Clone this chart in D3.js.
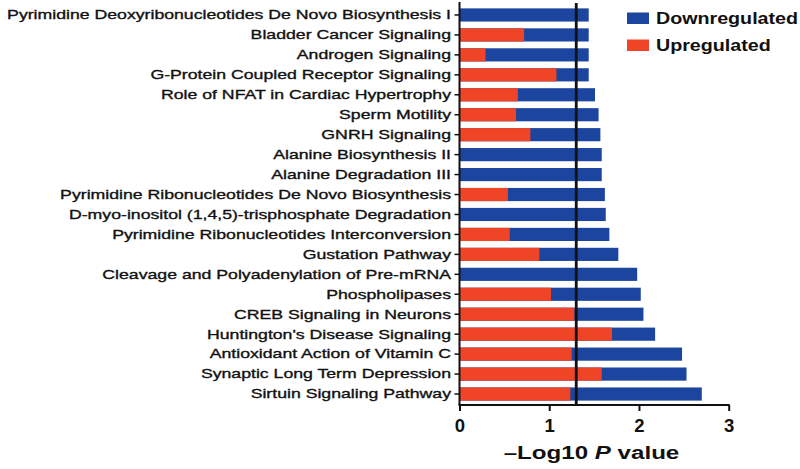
<!DOCTYPE html>
<html><head><meta charset="utf-8">
<script src="https://cdn.jsdelivr.net/npm/d3@7"></script>
<style>body{margin:0;background:#fff}svg{display:block}</style>
</head><body>
<svg id="c" width="800" height="469"></svg>
<script>
const categories = [
 "Pyrimidine Deoxyribonucleotides De Novo Biosynthesis I",
 "Bladder Cancer Signaling",
 "Androgen Signaling",
 "G-Protein Coupled Receptor Signaling",
 "Role of NFAT in Cardiac Hypertrophy",
 "Sperm Motility",
 "GNRH Signaling",
 "Alanine Biosynthesis II",
 "Alanine Degradation III",
 "Pyrimidine Ribonucleotides De Novo Biosynthesis",
 "D-myo-inositol (1,4,5)-trisphosphate Degradation",
 "Pyrimidine Ribonucleotides Interconversion",
 "Gustation Pathway",
 "Cleavage and Polyadenylation of Pre-mRNA",
 "Phospholipases",
 "CREB Signaling in Neurons",
 "Huntington's Disease Signaling",
 "Antioxidant Action of Vitamin C",
 "Synaptic Long Term Depression",
 "Sirtuin Signaling Pathway"
];
const totalValues = [1.44,1.44,1.44,1.44,1.51,1.55,1.57,1.585,1.585,1.62,1.63,1.67,1.77,1.98,2.02,2.05,2.18,2.48,2.53,2.70];
const upValues    = [0,0.72,0.29,1.08,0.65,0.63,0.79,0,0,0.54,0,0.56,0.89,0,1.02,1.28,1.70,1.25,1.585,1.235];
const xTicks = [0,1,2,3];
const threshold = 1.301;
const seriesNames = ["Downregulated","Upregulated"];
const colors = {Downregulated:"#1b459e", Upregulated:"#f04427"};

const FONT = "Liberation Sans, Arial, sans-serif";
const svg = d3.select("#c");
const x = d3.scaleLinear().domain([0,3]).range([459.5,728.7]);
const y = d3.scaleBand().domain(categories).range([5,404]).paddingInner(0.34).paddingOuter(0.17);

const rows = categories.map((c,i)=>({c, up:upValues[i], total:totalValues[i]}));

// blue (total) bars
svg.append("g").selectAll("rect").data(rows).join("rect")
  .attr("x", x(0)).attr("y", d=>y(d.c)).attr("height", y.bandwidth())
  .attr("width", d=>x(d.total)-x(0)).attr("fill", colors.Downregulated);
// red (up) bars
svg.append("g").selectAll("rect").data(rows.filter(d=>d.up>0)).join("rect")
  .attr("x", x(0)).attr("y", d=>y(d.c)).attr("height", y.bandwidth())
  .attr("width", d=>x(d.up)-x(0)).attr("fill", colors.Upregulated);

// threshold line
svg.append("line").attr("x1",x(threshold)).attr("x2",x(threshold))
  .attr("y1",3).attr("y2",405).attr("stroke","#111").attr("stroke-width",2.8);

// y axis
const sx = 1.31;
const yAxis = d3.axisLeft(y).tickSize(5).tickSizeOuter(0);
const gy = svg.append("g").attr("transform",`translate(${x(0)},0)`).call(yAxis);
gy.select(".domain").attr("stroke","#111").attr("stroke-width",2).attr("d","M0,2V405");
gy.selectAll(".tick line").attr("stroke","#111").attr("stroke-width",1.5);
gy.selectAll(".tick text").attr("font-family",FONT)
  .attr("font-size","13.5px").attr("fill","#111")
  .attr("stroke","#111").attr("stroke-width",0.35)
  .attr("x", -8.5/sx).attr("transform",`scale(${sx},1)`);

// x axis
const xAxis = d3.axisBottom(x).tickValues(xTicks).tickFormat(d3.format("d")).tickSize(6).tickSizeOuter(0);
const gx = svg.append("g").attr("transform","translate(0,405)").call(xAxis);
gx.select(".domain").attr("stroke","#111").attr("stroke-width",2).attr("d",`M${x(0)-1},0H${x(3)+1}`);
gx.selectAll(".tick line").attr("stroke","#111").attr("stroke-width",2);
gx.selectAll(".tick text").attr("font-family",FONT)
  .attr("font-size","18.5px").attr("font-weight","bold").attr("fill","#111")
  .attr("y",26.5).attr("dy",null);

// axis title
const tsx = 1.27;
const t = svg.append("text").attr("x",591.5/tsx).attr("y",459).attr("text-anchor","middle")
  .attr("transform",`scale(${tsx},1)`)
  .attr("font-family",FONT).attr("font-size","19px")
  .attr("font-weight","bold").attr("fill","#111");
t.append("tspan").text("\u2013Log10 ");
t.append("tspan").attr("font-style","italic").text("P");
t.append("tspan").text(" value");

// legend
const lsx = 1.23;
const lg = svg.append("g").selectAll("g").data(seriesNames).join("g")
  .attr("transform",(d,i)=>`translate(627,${12.5+i*27})`);
lg.append("rect").attr("width",22).attr("height",11.5).attr("fill",d=>colors[d]);
lg.append("text").attr("x",29/lsx).attr("y",11).text(d=>d)
  .attr("transform",`scale(${lsx},1)`)
  .attr("font-family",FONT).attr("font-size","16px")
  .attr("font-weight","bold").attr("fill","#111");
</script>
</body></html>
